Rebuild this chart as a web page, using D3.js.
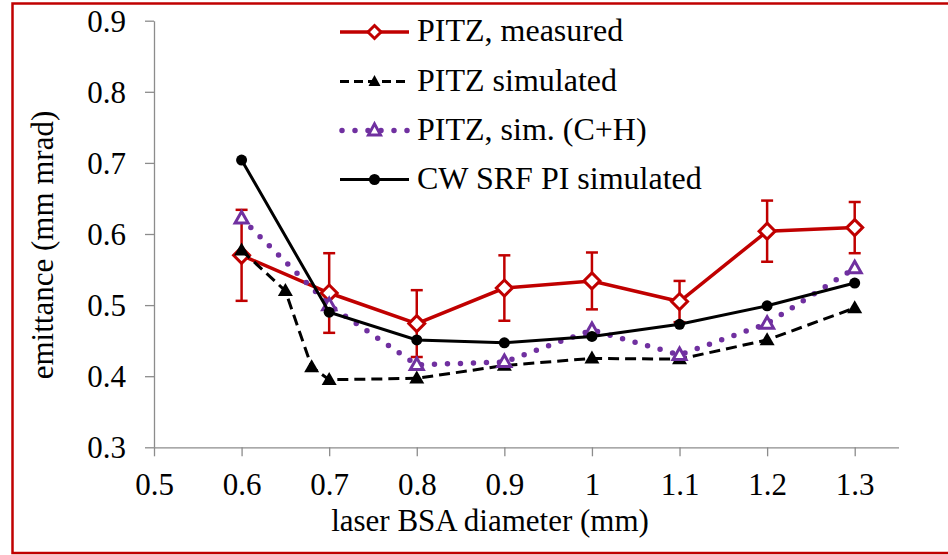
<!DOCTYPE html>
<meta charset="utf-8">
<style>
body { margin: 0; background: #fff; }
.axis path, .axis line { stroke: #8c8c8c; stroke-width: 1.3; }
</style>
<svg width="948" height="555"></svg>
<script src="https://cdn.jsdelivr.net/npm/d3@7"></script>
<script>

// values
var xMain = [0.6, 0.7, 0.8, 0.9, 1.0, 1.1, 1.2, 1.3];
var measured = [0.570, 0.517, 0.474, 0.524, 0.534, 0.505, 0.604, 0.609];
var measuredErr = [0.064, 0.056, 0.047, 0.046, 0.040, 0.029, 0.043, 0.036];
var xSim = [0.6, 0.65, 0.68, 0.7, 0.8, 0.9, 1.0, 1.1, 1.2, 1.3];
var simulated = [0.577, 0.520, 0.413, 0.395, 0.397, 0.415, 0.425, 0.424, 0.451, 0.496];
var simCH = [0.622, 0.500, 0.416, 0.420, 0.465, 0.430, 0.474, 0.552];
var cwSrf = [0.704, 0.490, 0.451, 0.447, 0.456, 0.473, 0.499, 0.531];
var xTicks = [0.5, 0.6, 0.7, 0.8, 0.9, 1.0, 1.1, 1.2, 1.3];
var yTicks = [0.3, 0.4, 0.5, 0.6, 0.7, 0.8, 0.9];
var seriesNames = ["PITZ, measured", "PITZ simulated", "PITZ, sim. (C+H)", "CW SRF PI simulated"];

var red = "#c00000", purple = "#7030a0";
var serif = "'Liberation Serif', serif";

var svg = d3.select("svg");

var x = d3.scaleLinear().domain([0.5, 1.35]).range([154, 898.5]),
    y = d3.scaleLinear().domain([0.3, 0.9]).range([447.3, 20.7]);

// outer red frame
svg.append("rect")
    .attr("x", 12.5).attr("y", 3.5)
    .attr("width", 1000).attr("height", 549.5)
    .attr("fill", "none")
    .attr("stroke", red)
    .attr("stroke-width", 2.5);

// axes
var xAxis = svg.append("g")
    .attr("class", "axis")
    .attr("transform", "translate(0," + y(0.3) + ")")
    .call(d3.axisBottom(x).tickValues(xTicks).tickSize(9).tickSizeOuter(0)
      .tickFormat(function(d) { return d3.format("")(+d.toFixed(1)); }));
xAxis.attr("font-family", null).attr("font-size", null);
xAxis.selectAll("text")
    .attr("y", 48)
    .attr("dy", 0);

var yAxis = svg.append("g")
    .attr("class", "axis")
    .attr("transform", "translate(" + x(0.5) + ",0)")
    .call(d3.axisLeft(y).tickValues(yTicks).tickSize(9).tickSizeOuter(0)
      .tickFormat(d3.format(".1f")));
yAxis.attr("font-family", null).attr("font-size", null);
yAxis.selectAll("text")
    .attr("x", -28)
    .attr("dy", "0.34em");

svg.selectAll(".axis text")
    .attr("fill", "#000")
    .style("font-family", serif)
    .style("font-size", "31px");

svg.append("text")
    .attr("x", 490)
    .attr("y", 531)
    .attr("text-anchor", "middle")
    .style("font-family", serif)
    .style("font-size", "31px")
    .text("laser BSA diameter (mm)");

svg.append("text")
    .attr("transform", "translate(53,245) rotate(-90)")
    .attr("text-anchor", "middle")
    .style("font-family", serif)
    .style("font-size", "31px")
    .text("emittance (mm mrad)");

// marker shapes
function diamond(s) { return "M0," + (-s) + "L" + s + ",0L0," + s + "L" + (-s) + ",0Z"; }
function triangle(w, h) { return "M0," + (-h * 0.6) + "L" + w + "," + (h * 0.4) + "L" + (-w) + "," + (h * 0.4) + "Z"; }

var line = d3.line()
    .x(function(d) { return x(d[0]); })
    .y(function(d) { return y(d[1]); });

var mData = d3.zip(xMain, measured, measuredErr),
    sData = d3.zip(xSim, simulated),
    chData = d3.zip(xMain, simCH),
    cwData = d3.zip(xMain, cwSrf);

// PITZ measured with error bars
var eb = svg.append("g").attr("stroke", red).attr("stroke-width", 2.5);
eb.selectAll(".ev").data(mData).enter().append("line")
    .attr("x1", function(d) { return x(d[0]); })
    .attr("x2", function(d) { return x(d[0]); })
    .attr("y1", function(d) { return y(d[1] + d[2]); })
    .attr("y2", function(d) { return y(d[1] - d[2]); });
eb.selectAll(".ct").data(mData).enter().append("line")
    .attr("x1", function(d) { return x(d[0]) - 6; })
    .attr("x2", function(d) { return x(d[0]) + 6; })
    .attr("y1", function(d) { return y(d[1] + d[2]); })
    .attr("y2", function(d) { return y(d[1] + d[2]); });
eb.selectAll(".cb").data(mData).enter().append("line")
    .attr("x1", function(d) { return x(d[0]) - 6; })
    .attr("x2", function(d) { return x(d[0]) + 6; })
    .attr("y1", function(d) { return y(d[1] - d[2]); })
    .attr("y2", function(d) { return y(d[1] - d[2]); });

svg.append("path")
    .attr("d", line(mData))
    .attr("fill", "none").attr("stroke", red).attr("stroke-width", 3.5);
svg.selectAll(".mdot").data(mData).enter().append("path")
    .attr("transform", function(d) { return "translate(" + x(d[0]) + "," + y(d[1]) + ")"; })
    .attr("d", diamond(8))
    .attr("fill", "#fff").attr("stroke", red).attr("stroke-width", 3);

// PITZ simulated
svg.append("path")
    .attr("d", line(sData))
    .attr("fill", "none").attr("stroke", "#000").attr("stroke-width", 3)
    .attr("stroke-dasharray", "11,6");
svg.selectAll(".sdot").data(sData).enter().append("path")
    .attr("transform", function(d) { return "translate(" + x(d[0]) + "," + y(d[1]) + ")"; })
    .attr("d", triangle(7.5, 13))
    .attr("fill", "#000");

// PITZ sim (C+H)
svg.append("path")
    .attr("d", line(chData))
    .attr("fill", "none").attr("stroke", purple).attr("stroke-width", 5.5)
    .attr("stroke-linecap", "round")
    .attr("stroke-dasharray", "0,13");
svg.selectAll(".chdot").data(chData).enter().append("path")
    .attr("transform", function(d) { return "translate(" + x(d[0]) + "," + y(d[1]) + ")"; })
    .attr("d", triangle(6.5, 11.5))
    .attr("fill", "#fff").attr("stroke", purple).attr("stroke-width", 3);

// CW SRF PI simulated
svg.append("path")
    .attr("d", line(cwData))
    .attr("fill", "none").attr("stroke", "#000").attr("stroke-width", 3);
svg.selectAll(".cwdot").data(cwData).enter().append("circle")
    .attr("cx", function(d) { return x(d[0]); })
    .attr("cy", function(d) { return y(d[1]); })
    .attr("r", 5.5)
    .attr("fill", "#000");

// legend
var legendY = [32, 81.5, 130.5, 179.5];
var lg = svg.append("g");
seriesNames.forEach(function(name, i) {
  var row = lg.append("g").attr("transform", "translate(0," + legendY[i] + ")");
  var ln = row.append("line").attr("x1", 340).attr("x2", 409).attr("y1", 0).attr("y2", 0);
  if (i === 0) {
    ln.attr("stroke", red).attr("stroke-width", 3.5);
    row.append("path").attr("transform", "translate(374.5,0)").attr("d", diamond(6.5))
      .attr("fill", "#fff").attr("stroke", red).attr("stroke-width", 3);
  } else if (i === 1) {
    ln.attr("stroke", "#000").attr("stroke-width", 3).attr("stroke-dasharray", "9,5");
    row.append("path").attr("transform", "translate(374.5,0)").attr("d", triangle(6, 11)).attr("fill", "#000");
  } else if (i === 2) {
    ln.attr("x1", 342).attr("stroke", purple).attr("stroke-width", 5.5)
      .attr("stroke-linecap", "round").attr("stroke-dasharray", "0,13");
    row.append("path").attr("transform", "translate(374.5,0)").attr("d", triangle(6, 11))
      .attr("fill", "#fff").attr("stroke", purple).attr("stroke-width", 3);
  } else {
    ln.attr("stroke", "#000").attr("stroke-width", 3);
    row.append("circle").attr("cx", 374.5).attr("cy", 0).attr("r", 5.5).attr("fill", "#000");
  }
  row.append("text")
      .attr("x", 417)
      .attr("y", 9)
      .style("font-family", serif)
      .style("font-size", "32px")
      .text(name);
});

</script>
